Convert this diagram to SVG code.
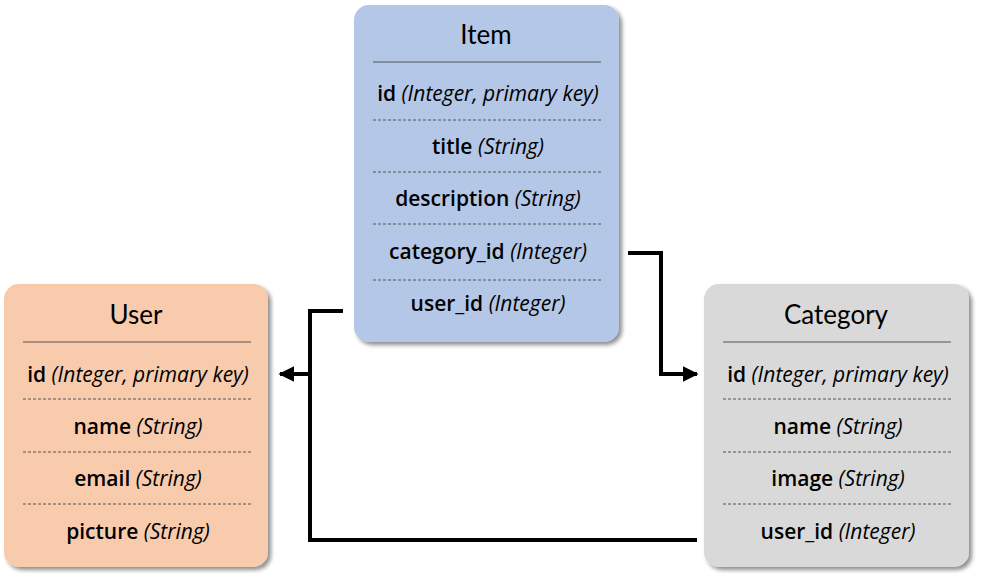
<svg xmlns="http://www.w3.org/2000/svg" width="981" height="579" viewBox="0 0 981 579">
<defs>
<filter id="sh" x="-10%" y="-10%" width="125%" height="125%">
<feGaussianBlur in="SourceAlpha" stdDeviation="2"/>
<feOffset dx="3" dy="3" result="b"/>
<feComponentTransfer><feFuncA type="linear" slope="0.45"/></feComponentTransfer>
<feMerge><feMergeNode/><feMergeNode in="SourceGraphic"/></feMerge>
</filter>
<marker id="arr" viewBox="0 0 10 10" refX="9" refY="5" markerWidth="4" markerHeight="4" orient="auto" markerUnits="strokeWidth">
<path d="M0,0 L10,5 L0,10 Z" fill="#000"/>
</marker>
</defs>
<style>
text{font-family:"Open Sans","Noto Sans","Liberation Sans",sans-serif;text-anchor:middle;fill:#000}
.t{font-size:26px;font-family:Lato,"Open Sans",sans-serif}
.f{font-size:21px;font-weight:600}
.f tspan{font-weight:normal;font-style:italic}
.sep{stroke:#555;stroke-width:1.2}
.dash{stroke:#555;stroke-width:1;stroke-dasharray:3 2}
.con{fill:none;stroke:#000;stroke-width:4}
</style>
<rect width="981" height="579" fill="#fff"/>
<g id="item">
<rect x="354" y="5" width="265" height="337" rx="15" fill="#b4c7e7" filter="url(#sh)"/>
<text class="t" x="486" y="44">Item</text>
<line class="sep" x1="373" y1="62" x2="601" y2="62"/>
<text class="f" x="488" y="101">id <tspan>(Integer, primary key)</tspan></text>
<line class="dash" x1="373" y1="120" x2="601" y2="120"/>
<text class="f" x="488" y="154">title <tspan>(String)</tspan></text>
<line class="dash" x1="373" y1="172" x2="601" y2="172"/>
<text class="f" x="488" y="206">description <tspan>(String)</tspan></text>
<line class="dash" x1="373" y1="224" x2="601" y2="224"/>
<text class="f" x="488" y="259">category_id <tspan>(Integer)</tspan></text>
<line class="dash" x1="373" y1="280" x2="601" y2="280"/>
<text class="f" x="488" y="311">user_id <tspan>(Integer)</tspan></text>
</g>
<g id="user">
<rect x="4" y="284" width="264" height="283" rx="15" fill="#f8cbad" filter="url(#sh)"/>
<text class="t" x="136" y="324">User</text>
<line class="sep" x1="23" y1="342" x2="251" y2="342"/>
<text class="f" x="138" y="382">id <tspan>(Integer, primary key)</tspan></text>
<line class="dash" x1="23" y1="399" x2="251" y2="399"/>
<text class="f" x="138" y="434">name <tspan>(String)</tspan></text>
<line class="dash" x1="23" y1="452" x2="251" y2="452"/>
<text class="f" x="138" y="486">email <tspan>(String)</tspan></text>
<line class="dash" x1="23" y1="504" x2="251" y2="504"/>
<text class="f" x="138" y="539">picture <tspan>(String)</tspan></text>
</g>
<g id="category">
<rect x="704" y="284" width="265" height="283" rx="15" fill="#d9d9d9" filter="url(#sh)"/>
<text class="t" x="836" y="324">Category</text>
<line class="sep" x1="723" y1="342" x2="951" y2="342"/>
<text class="f" x="838" y="382">id <tspan>(Integer, primary key)</tspan></text>
<line class="dash" x1="723" y1="399" x2="951" y2="399"/>
<text class="f" x="838" y="434">name <tspan>(String)</tspan></text>
<line class="dash" x1="723" y1="452" x2="951" y2="452"/>
<text class="f" x="838" y="486">image <tspan>(String)</tspan></text>
<line class="dash" x1="723" y1="504" x2="951" y2="504"/>
<text class="f" x="838" y="539">user_id <tspan>(Integer)</tspan></text>
</g>
<g id="connectors">
<path class="con" d="M628,253 H661 V374 H697" marker-end="url(#arr)"/>
<path class="con" d="M343,311 H310 V374 H280" marker-end="url(#arr)"/>
<path class="con" d="M697,540 H310 V374"/>
</g>
</svg>
